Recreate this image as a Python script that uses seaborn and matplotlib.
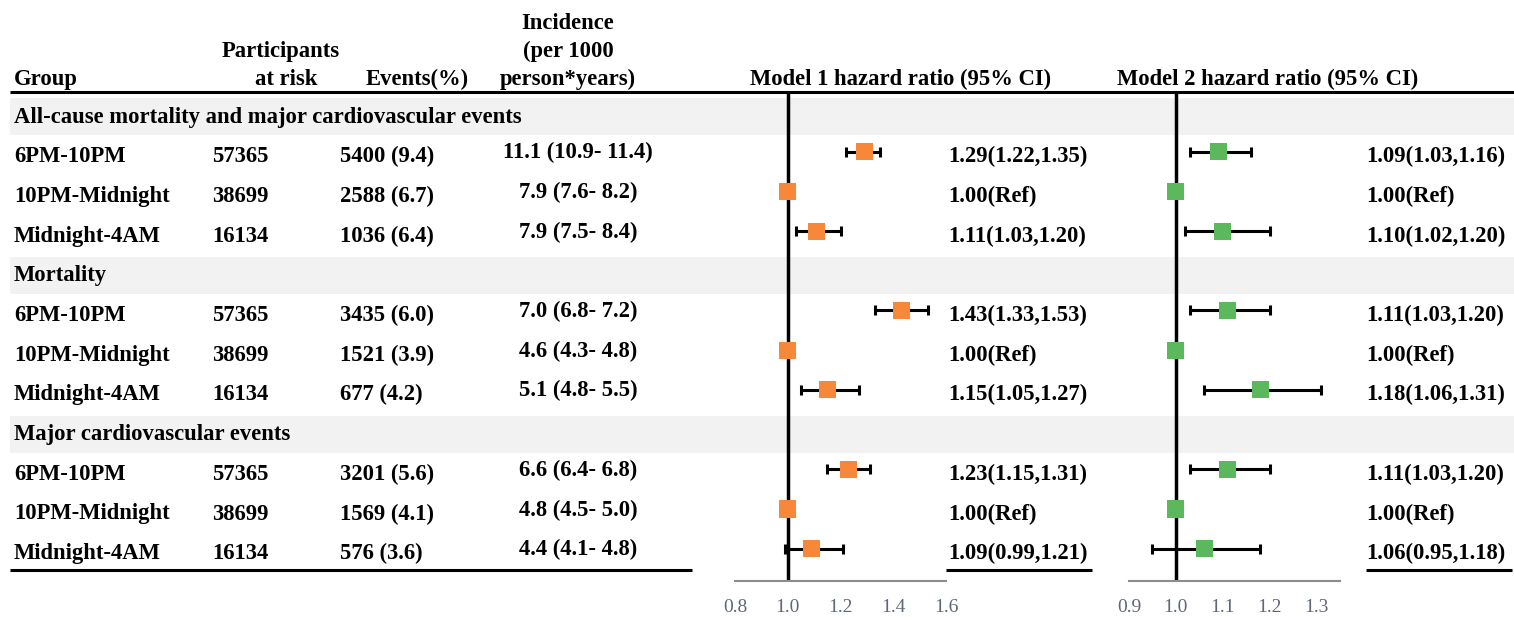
import numpy as np
import pandas as pd
import seaborn as sns
import matplotlib.pyplot as plt

sns.set_theme(style='white')
plt.rcParams['font.family'] = ['Liberation Serif', 'DejaVu Serif']
plt.rcParams['text.color'] = 'black'

# ---- data ----
sections = ["All-cause mortality and major cardiovascular events",
            "Mortality",
            "Major cardiovascular events"]
groups = ["6PM-10PM", "10PM-Midnight", "Midnight-4AM"]
participants = ["57365", "38699", "16134"]
events = [["5400 (9.4)", "2588 (6.7)", "1036 (6.4)"],
          ["3435 (6.0)", "1521 (3.9)", "677 (4.2)"],
          ["3201 (5.6)", "1569 (4.1)", "576 (3.6)"]]
incidence = [["11.1 (10.9- 11.4)", "7.9 (7.6- 8.2)", "7.9 (7.5- 8.4)"],
             ["7.0 (6.8- 7.2)", "4.6 (4.3- 4.8)", "5.1 (4.8- 5.5)"],
             ["6.6 (6.4- 6.8)", "4.8 (4.5- 5.0)", "4.4 (4.1- 4.8)"]]
m1_hr = [1.29, 1.00, 1.11, 1.43, 1.00, 1.15, 1.23, 1.00, 1.09]
m1_lo = [1.22, np.nan, 1.03, 1.33, np.nan, 1.05, 1.15, np.nan, 0.99]
m1_hi = [1.35, np.nan, 1.20, 1.53, np.nan, 1.27, 1.31, np.nan, 1.21]
m2_hr = [1.09, 1.00, 1.10, 1.11, 1.00, 1.18, 1.11, 1.00, 1.06]
m2_lo = [1.03, np.nan, 1.02, 1.03, np.nan, 1.06, 1.03, np.nan, 0.95]
m2_hi = [1.16, np.nan, 1.20, 1.20, np.nan, 1.31, 1.20, np.nan, 1.18]
m1_ticks = [0.8, 1.0, 1.2, 1.4, 1.6]
m2_ticks = [0.9, 1.0, 1.1, 1.2, 1.3]

# ---- layout (pixel units) ----
W, H = 1514, 617
row0, row_h = 117, 39.7      # centre of first table row, row height
top_line, bot_line, axis_y = 92, 570, 581
fs = 16.3

def hr_text(h, lo, hi):
    if np.isnan(lo):
        return f"{h:.2f}(Ref)"
    return f"{h:.2f}({lo:.2f},{hi:.2f})"

# one flat table: section header rows + data rows
rows = []
k = 0
for s, sec in enumerate(sections):
    rows.append(dict(kind='section', label=sec, pos=len(rows)))
    for g in range(3):
        rows.append(dict(kind='data', label=groups[g], part=participants[g],
                         ev=events[s][g], inc=incidence[s][g], pos=len(rows),
                         m1=m1_hr[k], m1lo=m1_lo[k], m1hi=m1_hi[k],
                         m2=m2_hr[k], m2lo=m2_lo[k], m2hi=m2_hi[k]))
        k += 1
df = pd.DataFrame(rows)
df['y'] = row0 + df['pos'] * row_h

fig = plt.figure(figsize=(W / 100, H / 100), dpi=100)
ax = fig.add_axes([0, 0, 1, 1])
ax.set_xlim(0, W)
ax.set_ylim(H, 0)
ax.axis('off')

# header
hk = dict(fontsize=fs, fontweight='bold', va='baseline')
ax.text(14, 85, "Group", ha='left', **hk)
ax.text(281, 57, "Participants", ha='center', **hk)
ax.text(286, 85, "at risk", ha='center', **hk)
ax.text(417, 85, "Events(%)", ha='center', **hk)
ax.text(568, 29, "Incidence", ha='center', **hk)
ax.text(568, 57, "(per 1000", ha='center', **hk)
ax.text(568, 85, "person*years)", ha='center', **hk)
ax.text(901, 85, "Model 1 hazard ratio (95% CI)", ha='center', **hk)
ax.text(1268, 85, "Model 2 hazard ratio (95% CI)", ha='center', **hk)
ax.plot([10, W], [top_line, top_line], color='black', lw=2.2, solid_capstyle='butt')

# grey section bands + rows
for _, r in df.iterrows():
    y = r['y']
    if r['kind'] == 'section':
        ax.axhspan(y - 19, y + 18, xmin=10 / W, xmax=1, color='#f2f2f2', lw=0, zorder=0)
        ax.text(14, y, r['label'], ha='left', va='center', fontsize=fs, fontweight='bold')
    else:
        tk = dict(va='center', fontsize=fs, fontweight='bold')
        ax.text(14, y, r['label'], ha='left', **tk)
        ax.text(212, y, r['part'], ha='left', **tk)
        ax.text(340, y, r['ev'], ha='left', **tk)
        ax.text(578, y - 4, r['inc'], ha='center', **tk)
        ax.text(948, y, hr_text(r['m1'], r['m1lo'], r['m1hi']), ha='left', **tk)
        ax.text(1366, y, hr_text(r['m2'], r['m2lo'], r['m2hi']), ha='left', **tk)

for x0, x1 in [(10, 692), (946, 1092), (1366, 1512)]:
    ax.plot([x0, x1], [bot_line, bot_line], color='black', lw=2.2, solid_capstyle='butt')

# forest panels
data_rows = df[df['kind'] == 'data']


def forest(x0, x1, lims, ticks, hr, lo, hi, color):
    fa = fig.add_axes([x0 / W, 1 - axis_y / H, (x1 - x0) / W, (axis_y - top_line) / H])
    fa.patch.set_alpha(0)
    fa.set_xlim(*lims)
    fa.set_ylim(axis_y, top_line)
    fa.axvline(1.0, color='black', lw=2.5, zorder=1)
    sub = data_rows.dropna(subset=[lo])
    fa.errorbar(sub[hr], sub['y'] - 5, xerr=[sub[hr] - sub[lo], sub[hi] - sub[hr]],
                fmt='none', ecolor='black', elinewidth=2.2, capsize=3.5, capthick=2.2, zorder=2)
    sns.scatterplot(x=data_rows[hr], y=data_rows['y'] - 5, marker='s', s=150,
                    color=color, edgecolor='none', ax=fa, zorder=3, legend=False)
    for s in ['top', 'right', 'left']:
        fa.spines[s].set_visible(False)
    fa.spines['bottom'].set_color('#8c8c8c')
    fa.spines['bottom'].set_linewidth(1.5)
    fa.set_yticks([])
    fa.set_xticks(ticks)
    fa.set_xticklabels([f"{t:.1f}" for t in ticks])
    fa.tick_params(axis='x', direction='out', length=5, width=1.3, color='#8c8c8c',
                   labelcolor='#5f6878', labelsize=14, pad=8)
    fa.set_xlabel('')
    fa.set_ylabel('')


forest(735, 946, (0.8, 1.6), m1_ticks, 'm1', 'm1lo', 'm1hi', '#f7883a')
forest(1129, 1340, (0.9, 1.35), m2_ticks, 'm2', 'm2lo', 'm2hi', '#5cb85c')

fig.savefig('out.png', dpi=100)
